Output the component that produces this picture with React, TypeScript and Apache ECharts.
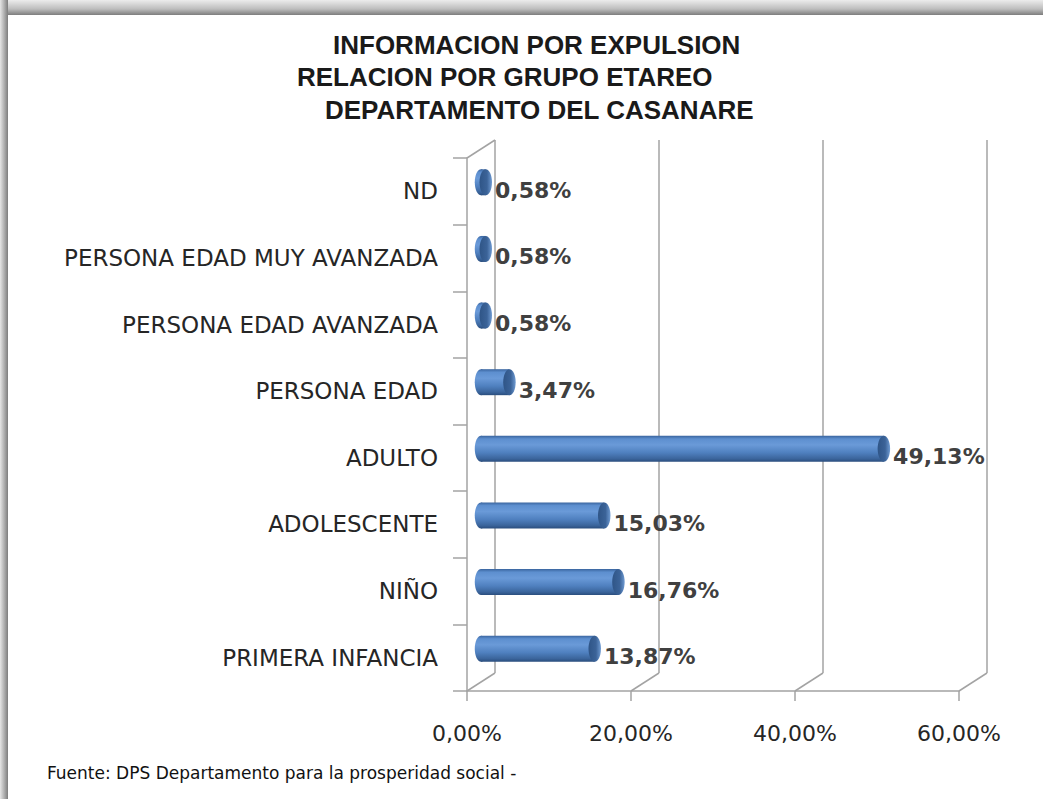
import React, { useEffect, useRef } from "react";
import * as echarts from "echarts";

const categories = [
  "PRIMERA INFANCIA",
  "NIÑO",
  "ADOLESCENTE",
  "ADULTO",
  "PERSONA EDAD",
  "PERSONA EDAD AVANZADA",
  "PERSONA EDAD MUY AVANZADA",
  "ND",
];
const values = [13.87, 16.76, 15.03, 49.13, 3.47, 0.58, 0.58, 0.58];
const xTicks = [0, 20, 40, 60];
const titleLines = [
  "INFORMACION POR EXPULSION",
  "RELACION POR GRUPO ETAREO",
  "DEPARTAMENTO DEL CASANARE",
];
const sourceNote = "Fuente: DPS Departamento para la prosperidad social -";

const fmtPct = (v: number) => v.toFixed(2).replace(".", ",") + "%";

const DX = 28;
const DY = -18;
const GRID_COLOR = "#a3a3a3";

export default function App() {
  const ref = useRef<HTMLDivElement>(null);
  useEffect(() => {
    if (!ref.current) return;
    const chart = echarts.init(ref.current, null, { renderer: "svg" });
    const bodyGrad = () =>
      new echarts.graphic.LinearGradient(0, 0, 0, 1, [
        { offset: 0, color: "#3a659f" },
        { offset: 0.12, color: "#5d8fcf" },
        { offset: 0.35, color: "#6a9ad8" },
        { offset: 0.65, color: "#4f80bf" },
        { offset: 0.88, color: "#3b659c" },
        { offset: 1, color: "#2a4d7d" },
      ]);
    const capGrad = () =>
      new echarts.graphic.LinearGradient(0, 0, 1, 0, [
        { offset: 0, color: "#2f5587" },
        { offset: 0.6, color: "#3b6398" },
        { offset: 1, color: "#6f9bd2" },
      ]);

    const titleTops = [32, 64, 97];
    const titleLefts = [333, 297, 325];

    chart.setOption({
      animation: false,
      backgroundColor: "#ffffff",
      title: titleLines.map((t, i) => ({
        text: t,
        left: titleLefts[i],
        top: titleTops[i],
        padding: 0,
        textStyle: {
          fontFamily: "Liberation Sans, Arial, sans-serif",
          fontWeight: "bold",
          fontSize: 26,
          color: "#1a1a1a",
        },
      })),
      graphic: [
        {
          type: "rect",
          z: -10,
          shape: { x: 0, y: 0, width: 1043, height: 15 },
          style: {
            fill: new echarts.graphic.LinearGradient(0, 0, 0, 1, [
              { offset: 0, color: "#ececec" },
              { offset: 0.6, color: "#bdbdbd" },
              { offset: 1, color: "#7d7d7d" },
            ]),
          },
        },
        {
          type: "rect",
          z: -10,
          shape: { x: 0, y: 0, width: 8, height: 799 },
          style: {
            fill: new echarts.graphic.LinearGradient(0, 0, 1, 0, [
              { offset: 0, color: "#e6e6e6" },
              { offset: 0.6, color: "#a8a8a8" },
              { offset: 1, color: "#7d7d7d" },
            ]),
          },
        },
        {
          type: "text",
          left: 47,
          top: 764,
          style: {
            text: sourceNote,
            font: "17px 'DejaVu Sans', sans-serif",
            fill: "#111111",
          },
        },
      ],
      grid: { left: 467, top: 158, width: 492, height: 533 },
      xAxis: {
        type: "value",
        min: 0,
        max: 60,
        interval: 20,
        axisLine: { show: true, lineStyle: { color: GRID_COLOR, width: 1.5 } },
        axisTick: { show: true, length: 10, lineStyle: { color: GRID_COLOR, width: 1.5 } },
        splitLine: { show: false },
        axisLabel: {
          margin: 31,
          formatter: (v: number) => fmtPct(v),
          fontFamily: "DejaVu Sans, sans-serif",
          fontSize: 22,
          color: "#262626",
        },
      },
      yAxis: {
        type: "category",
        data: categories,
        axisLine: { show: true, lineStyle: { color: GRID_COLOR, width: 1.5 } },
        axisTick: { show: true, length: 14, lineStyle: { color: GRID_COLOR, width: 1.5 } },
        axisLabel: {
          margin: 29,
          fontFamily: "DejaVu Sans, sans-serif",
          fontSize: 23,
          color: "#262626",
        },
      },
      series: [
        {
          type: "custom",
          name: "grid3d",
          z: 1,
          silent: true,
          clip: false,
          data: xTicks.map((v) => [v, 0]),
          renderItem: (params: any, api: any) => {
            const v = api.value(0);
            const x = api.coord([v, 0])[0];
            const cs = params.coordSys;
            const top = cs.y;
            const bot = cs.y + cs.height;
            const ls = { stroke: GRID_COLOR, lineWidth: 1.5 };
            const children: any[] = [
              {
                type: "line",
                shape: { x1: x + DX, y1: top + DY, x2: x + DX, y2: bot + DY },
                style: ls,
              },
              {
                type: "line",
                shape: { x1: x, y1: bot, x2: x + DX, y2: bot + DY },
                style: ls,
              },
            ];
            if (v === 0) {
              children.push({
                type: "line",
                shape: { x1: x, y1: top, x2: x + DX, y2: top + DY },
                style: ls,
              });
            }
            return { type: "group", children };
          },
        },
        {
          type: "custom",
          name: "bars",
          z: 3,
          clip: false,
          data: values.map((v, i) => [v, i]),
          renderItem: (params: any, api: any) => {
            const v = api.value(0);
            const c = api.value(1);
            const p0 = api.coord([0, c]);
            const p1 = api.coord([v, c]);
            const band = api.size([0, 1])[1];
            const h = band * 0.39;
            const rx = h * 0.24;
            const x0 = p0[0] + DX / 2;
            const x1 = p1[0] + DX / 2;
            const cy = p0[1] + DY / 2;
            return {
              type: "group",
              children: [
                {
                  type: "ellipse",
                  shape: { cx: x0, cy, rx, ry: h / 2 },
                  style: { fill: bodyGrad() },
                },
                {
                  type: "rect",
                  shape: { x: x0, y: cy - h / 2, width: Math.max(x1 - x0, 0.1), height: h },
                  style: { fill: bodyGrad() },
                },
                {
                  type: "ellipse",
                  shape: { cx: x1, cy, rx, ry: h / 2 },
                  style: { fill: capGrad() },
                },
                {
                  type: "text",
                  style: {
                    x: x1 + rx + 3,
                    y: cy + 8,
                    text: fmtPct(v),
                    font: "bold 22px 'DejaVu Sans', sans-serif",
                    fill: "#404040",
                    verticalAlign: "middle",
                    align: "left",
                  },
                },
              ],
            };
          },
        },
      ],
    });
    return () => chart.dispose();
  }, []);
  return (
    <div
      ref={ref}
      style={{ position: "absolute", left: 0, top: 0, width: 1043, height: 799 }}
    />
  );
}
